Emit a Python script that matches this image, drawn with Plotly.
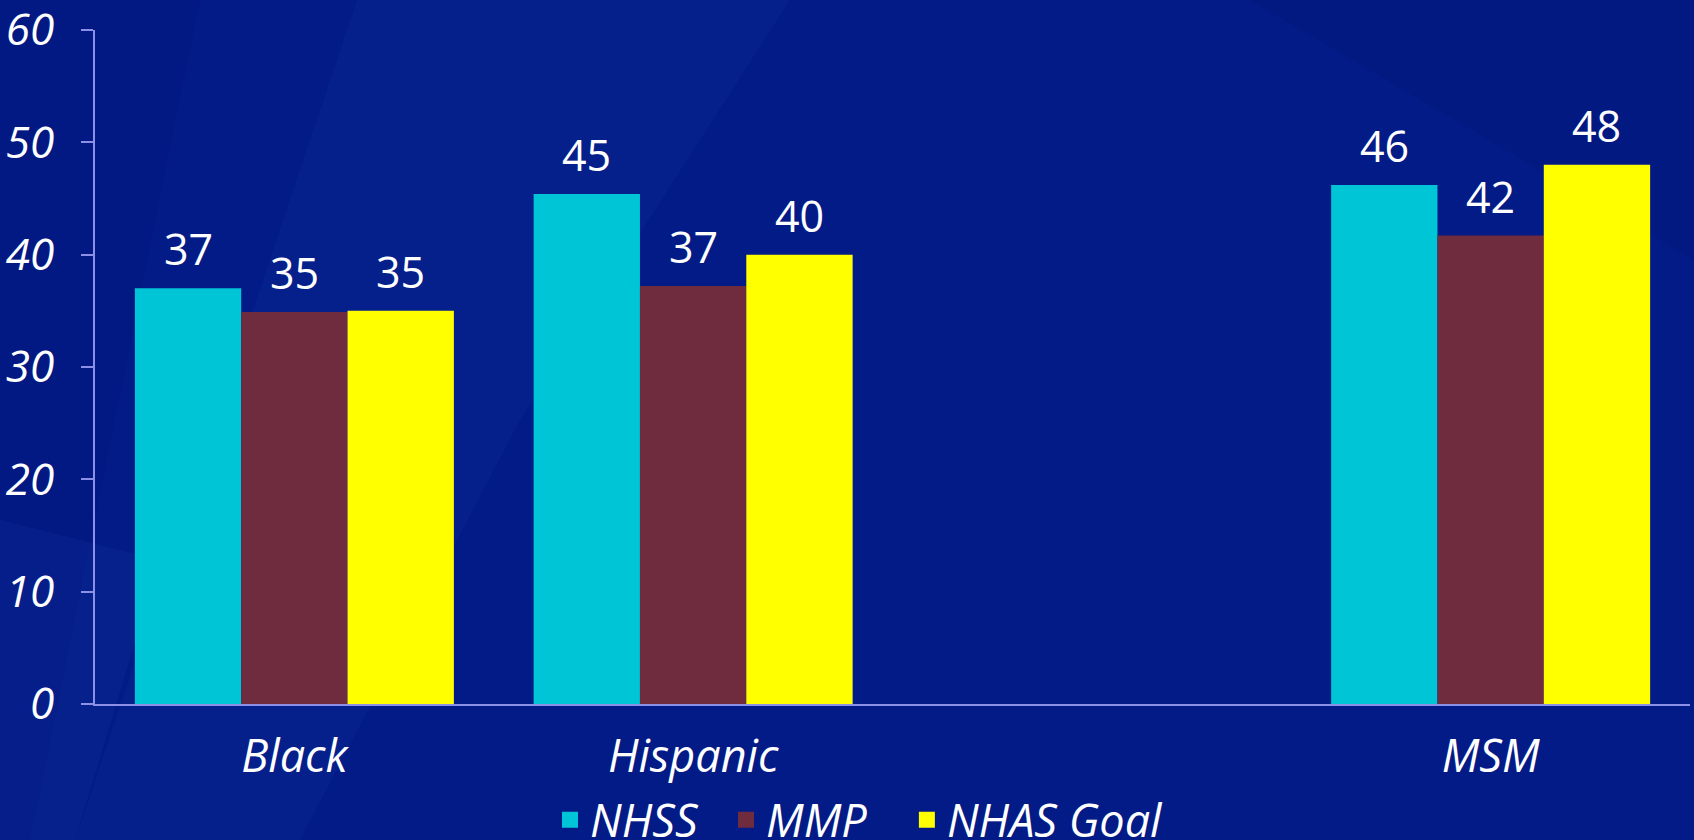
import plotly.graph_objects as go

categories = ["Black", "Hispanic", " ", "MSM"]
nhss = [37.0, 45.4, None, 46.2]
mmp = [34.9, 37.2, None, 41.7]
nhas_goal = [35.0, 40.0, None, 48.0]
series_names = ["NHSS", "MMP", "NHAS Goal"]
series_colors = ["#00C5D6", "#6E2C3E", "#FFFF00"]
y_ticks = [0, 10, 20, 30, 40, 50, 60]

W, H = 1694, 840
ML, MR, MT, MB = 95, 4, 30, 136
PW, PH = W - ML - MR, H - MT - MB

def px2paper(x, y):
    return (x - ML) / PW, (H - MB - y) / PH

FONT = "Open Sans, Noto Sans, sans-serif"
fig = go.Figure()
series = [nhss, mmp, nhas_goal]
for name, vals, col in zip(series_names, series, series_colors):
    fig.add_trace(go.Bar(x=categories, y=vals, name=name, marker=dict(color=col, line=dict(width=0)),
                         showlegend=False))
# legend swatches (trailing non-breaking spaces widen the entries like the original)
pads = ["\u00a0\u00a0", "\u00a0\u00a0\u00a0", ""]
for name, col, pad in zip(series_names, series_colors, pads):
    fig.add_trace(go.Scatter(x=[None], y=[None], mode="markers", name=name + pad,
                             marker=dict(symbol="square", size=22, color=col)))

# value labels
n = len(series)
bw = 0.8 / n
annotations = []
for j, vals in enumerate(series):
    for i, v in enumerate(vals):
        if v is None:
            continue
        annotations.append(dict(x=i + (j - (n - 1) / 2) * bw, y=v, xref="x", yref="y",
                                text=f"{v:.0f}", showarrow=False, yanchor="bottom", yshift=8,
                                font=dict(family=FONT, size=43, color="white")))

# background streaks
shapes = []
def poly(pts, color, opacity):
    path = ""
    for k, (x, y) in enumerate(pts):
        px, py = px2paper(x, y)
        path += ("M" if k == 0 else "L") + f"{px:.4f},{py:.4f} "
    path += "Z"
    shapes.append(dict(type="path", xref="paper", yref="paper", path=path,
                       fillcolor=color, line=dict(width=0), opacity=opacity, layer="below"))

poly([(357, 0), (790, 0), (520, 420), (300, 840), (75, 840)], "#1a3cb0", 0.13)
poly([(0, 520), (0, 840), (75, 840), (160, 560)], "#2a4cc0", 0.10)
poly([(0, 0), (200, 0), (30, 840), (0, 840)], "#000a60", 0.08)
poly([(1250, 0), (1694, 0), (1694, 260)], "#000a60", 0.10)

fig.update_layout(
    width=W, height=H,
    margin=dict(l=ML, r=MR, t=MT, b=MB, autoexpand=False),
    paper_bgcolor="#031b86", plot_bgcolor="rgba(0,0,0,0)",
    barmode="group", bargap=0.2, bargroupgap=0,
    shapes=shapes, annotations=annotations,
    showlegend=True,
    legend=dict(orientation="h", xref="container", yref="container", x=550 / W, xanchor="left",
                y=1 - 784 / H, yanchor="top",
                font=dict(family=FONT, size=45, color="white", style="italic"),
                bgcolor="rgba(0,0,0,0)", itemwidth=30),
    xaxis=dict(type="category", showgrid=False, showline=True, linecolor="#8C90E6", linewidth=2,
               ticks="", tickfont=dict(family=FONT, size=45, color="white", style="italic"),
               ticklabelstandoff=12, zeroline=False, fixedrange=True, automargin=False),
    yaxis=dict(range=[0, 60], tickvals=y_ticks, showgrid=False, showline=True, linecolor="#8C90E6",
               linewidth=2, ticks="outside", ticklen=12, tickwidth=2, tickcolor="#8C90E6",
               tickfont=dict(family=FONT, size=44, color="white", style="italic"),
               ticklabelstandoff=18, ticklabeloverflow="allow",
               zeroline=False, fixedrange=True, automargin=False),
)
fig.write_html("out.html")
